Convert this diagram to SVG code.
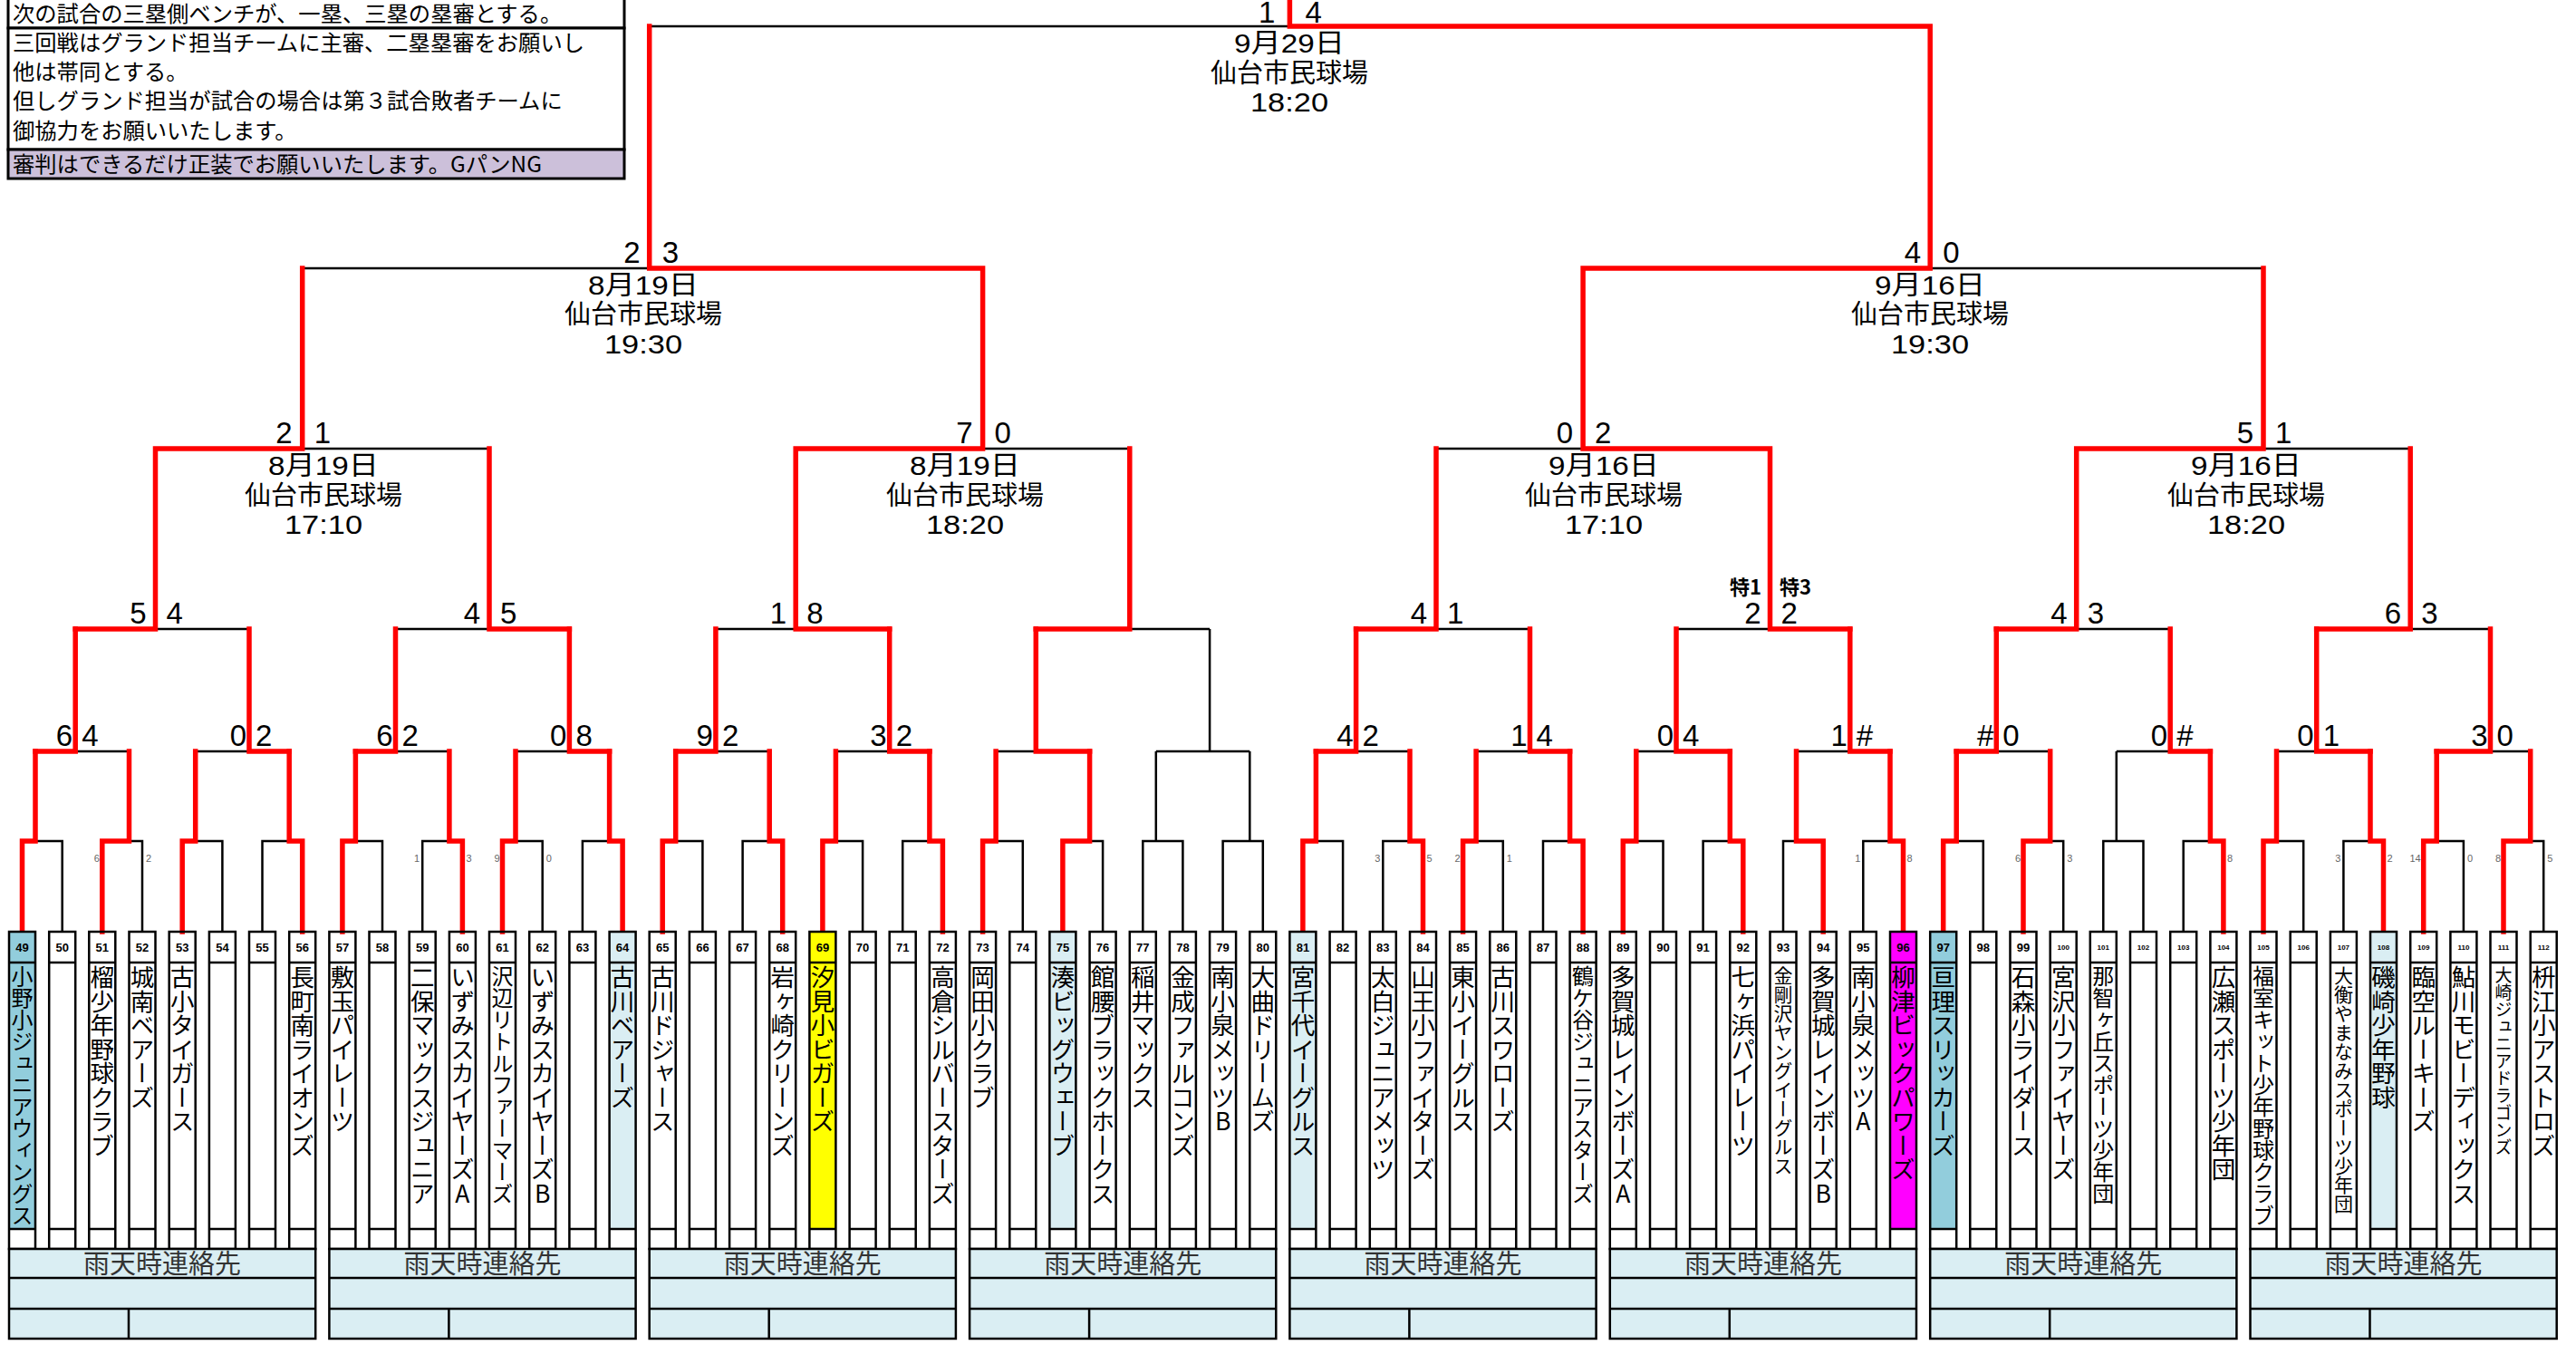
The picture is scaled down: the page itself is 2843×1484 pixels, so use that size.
<svg xmlns="http://www.w3.org/2000/svg" xmlns:xlink="http://www.w3.org/1999/xlink" width="2843" height="1484" viewBox="0 0 2843 1484">
<style>
.k{fill:none;stroke:#000;stroke-width:2.5}
.r{fill:none;stroke:#f00;stroke-width:5.5;stroke-linecap:square;stroke-linejoin:miter}
.cb{fill:none;stroke:#000;stroke-width:2.5}
.b1{fill:#92CDDC}.b2{fill:#DAEEF3}.yl{fill:#FFFF00}.mg{fill:#FF00FF}
.nt{font-family:"Noto Sans CJK JP",sans-serif;font-size:24.3px;fill:#000}
.s{font-family:"Liberation Sans",Arial,sans-serif;font-size:33px;fill:#000}
.e{text-anchor:end}
.tn{font-family:"Liberation Sans",Arial,sans-serif;font-size:11px;fill:#666}
.info{font-family:"Liberation Sans","Noto Sans CJK JP",sans-serif;font-size:29px;fill:#000;text-anchor:middle}
.no{font-family:"Liberation Sans",Arial,sans-serif;font-weight:bold;font-size:13px;text-anchor:middle}
.n3{font-size:8px}
.nm{font-family:"Noto Sans CJK JP",sans-serif;font-size:26.5px;writing-mode:vertical-rl;text-orientation:upright;fill:#000}
.f24{font-size:24px}.f21{font-size:21px}.f19{font-size:19px}
.rn{font-family:"Noto Sans CJK JP",sans-serif;font-size:29px;fill:#333;text-anchor:middle}
.rb{fill:#DAEEF3;stroke:#000;stroke-width:2.5}
.tk{font-family:"Noto Sans CJK JP",sans-serif;font-size:22px;font-weight:bold}
</style>
<defs>
<g id="col"><rect class="cb" x="0" y="1028" width="29" height="350"/><path class="k" d="M0 1062H29M0 1356H29"/></g>
</defs>
<rect width="2843" height="1484" fill="#fff"/>

<g id="notes">
<rect x="9" y="-5" width="680" height="36" fill="#fff" stroke="#000" stroke-width="3"/>
<rect x="9" y="31" width="680" height="134" fill="#fff" stroke="#000" stroke-width="3"/>
<rect x="9" y="165" width="680" height="32" fill="#CCC0DA" stroke="#000" stroke-width="3"/>
<text class="nt" x="14" y="24">次の試合の三塁側ベンチが、一塁、三塁の塁審とする。</text>
<text class="nt" x="14" y="56">三回戦はグランド担当チームに主審、二塁塁審をお願いし</text>
<text class="nt" x="14" y="88">他は帯同とする。</text>
<text class="nt" x="14" y="120">但しグランド担当が試合の場合は第３試合敗者チームに</text>
<text class="nt" x="14" y="153">御協力をお願いいたします。</text>
<text class="nt" x="14" y="190">審判はできるだけ正装でお願いいたします。GパンNG</text>
</g>

<g id="connectors">
<path class="k" d="M39 928H68.7V1028M142.5 928H157V1028M215.7 928H245.4V1028M319.2 928H289.5V1028M392.4 928H422V1028M495.9 928H466.2V1028M569 928H598.7V1028M672.6 928H642.9V1028M745.7 928H775.4V1028M849.2 928H819.6V1028M922.4 928H952.1V1028M1025.9 928H996.2V1028M1099.1 928H1128.8V1028M1202.6 928H1217.1V1028M1261.3 1028V928H1305.4V1028M1275.8 928V829M1349.6 1028V928H1393.8V1028M1379.3 928V829M1452.4 928H1482.1V1028M1556 928H1526.3V1028M1629.1 928H1658.8V1028M1732.6 928H1703V1028M1805.8 928H1835.5V1028M1909.3 928H1879.6V1028M1982.5 928H1968V1028M2086 928H2056.3V1028M2159.2 928H2188.8V1028M2262.7 928H2277.2V1028M2321.3 1028V928H2365.5V1028M2335.8 928V829M2439.4 928H2409.7V1028M2512.5 928H2542.2V1028M2616 928H2586.4V1028M2689.2 928H2718.9V1028M2792.7 928H2807.2V1028"/>
<path class="k" d="M83.2 829H142.5M275 829H215.7M436.5 829H495.9M628.4 829H569M789.9 829H849.2M981.7 829H922.4M1143.3 829H1099.1M1275.8 829H1379.3M1335.1 829V694M1496.6 829H1556M1688.5 829H1629.1M1850 829H1805.8M2041.8 829H1982.5M2203.3 829H2262.7M2395.2 829H2335.8M2556.7 829H2512.5M2748.5 829H2792.7"/>
<path class="k" d="M171.5 694H275M540 694H436.5M878.2 694H789.9M1246.8 694H1335.1M1585 694H1688.5M1953.5 694H1850M2291.7 694H2395.2M2660.2 694H2748.5M333.7 495H540M1084.6 495H1246.8M1747.1 495H1585M2498 495H2660.2M716.7 296H333.7M2130.2 296H2498M1423.4 29H716.7"/>
<path class="r" d="M24.5 1028V928H39V829M112.8 1028V928H142.5V829M201.2 1028V928H215.7V829M333.7 1028V928H319.2V829M377.9 1028V928H392.4V829M510.4 1028V928H495.9V829M554.5 1028V928H569V829M687.1 1028V928H672.6V829M731.2 1028V928H745.7V829M863.7 1028V928H849.2V829M907.9 1028V928H922.4V829M1040.4 1028V928H1025.9V829M1084.6 1028V928H1099.1V829M1172.9 1028V928H1202.6V829M1437.9 1028V928H1452.4V829M1570.5 1028V928H1556V829M1614.6 1028V928H1629.1V829M1747.1 1028V928H1732.6V829M1791.3 1028V928H1805.8V829M1923.8 1028V928H1909.3V829M2012.2 1028V928H1982.5V829M2100.5 1028V928H2086V829M2144.7 1028V928H2159.2V829M2233 1028V928H2262.7V829M2453.9 1028V928H2439.4V829M2498 1028V928H2512.5V829M2630.5 1028V928H2616V829M2674.7 1028V928H2689.2V829M2763 1028V928H2792.7V829"/>
<path class="r" d="M39 829H83.2V694M319.2 829H275V694M392.4 829H436.5V694M672.6 829H628.4V694M745.7 829H789.9V694M1025.9 829H981.7V694M1202.6 829H1143.3V694M1452.4 829H1496.6V694M1732.6 829H1688.5V694M1909.3 829H1850V694M2086 829H2041.8V694M2159.2 829H2203.3V694M2439.4 829H2395.2V694M2616 829H2556.7V694M2689.2 829H2748.5V694"/>
<path class="r" d="M83.2 694H171.5V495M628.4 694H540V495M981.7 694H878.2V495M1143.3 694H1246.8V495M1496.6 694H1585V495M2041.8 694H1953.5V495M2203.3 694H2291.7V495M2556.7 694H2660.2V495M171.5 495H333.7V296M878.2 495H1084.6V296M1953.5 495H1747.1V296M2291.7 495H2498V296M1084.6 296H716.7V29M1747.1 296H2130.2V29M2130.2 29H1423.4V0"/>
</g>

<g id="scores">
<text class="s e" x="80.2" y="823">6</text><text class="s" x="90.2" y="823">4</text>
<text class="s e" x="272" y="823">0</text><text class="s" x="282" y="823">2</text>
<text class="s e" x="433.5" y="823">6</text><text class="s" x="443.5" y="823">2</text>
<text class="s e" x="625.4" y="823">0</text><text class="s" x="635.4" y="823">8</text>
<text class="s e" x="786.9" y="823">9</text><text class="s" x="796.9" y="823">2</text>
<text class="s e" x="978.7" y="823">3</text><text class="s" x="988.7" y="823">2</text>
<text class="s e" x="1493.6" y="823">4</text><text class="s" x="1503.6" y="823">2</text>
<text class="s e" x="1685.5" y="823">1</text><text class="s" x="1695.5" y="823">4</text>
<text class="s e" x="1847" y="823">0</text><text class="s" x="1857" y="823">4</text>
<text class="s e" x="2038.8" y="823">1</text><text class="s" x="2048.8" y="823">#</text>
<text class="s e" x="2200.3" y="823">#</text><text class="s" x="2210.3" y="823">0</text>
<text class="s e" x="2392.2" y="823">0</text><text class="s" x="2402.2" y="823">#</text>
<text class="s e" x="2553.7" y="823">0</text><text class="s" x="2563.7" y="823">1</text>
<text class="s e" x="2745.5" y="823">3</text><text class="s" x="2755.5" y="823">0</text>
<text class="s e" x="161.5" y="688">5</text><text class="s" x="183.5" y="688">4</text>
<text class="s e" x="530" y="688">4</text><text class="s" x="552" y="688">5</text>
<text class="s e" x="868.2" y="688">1</text><text class="s" x="890.2" y="688">8</text>
<text class="s e" x="1575" y="688">4</text><text class="s" x="1597" y="688">1</text>
<text class="s e" x="1943.5" y="688">2</text><text class="s" x="1965.5" y="688">2</text>
<text class="s e" x="2281.7" y="688">4</text><text class="s" x="2303.7" y="688">3</text>
<text class="s e" x="2650.2" y="688">6</text><text class="s" x="2672.2" y="688">3</text>
<text class="tk e" x="1944" y="656">特1</text><text class="tk" x="1964" y="656">特3</text>
<text class="s e" x="322.7" y="489">2</text><text class="s" x="346.7" y="489">1</text>
<text class="s e" x="1073.6" y="489">7</text><text class="s" x="1097.6" y="489">0</text>
<text class="s e" x="1736.1" y="489">0</text><text class="s" x="1760.1" y="489">2</text>
<text class="s e" x="2487" y="489">5</text><text class="s" x="2511" y="489">1</text>
<text class="s e" x="706.7" y="290">2</text><text class="s" x="730.7" y="290">3</text>
<text class="s e" x="2120.2" y="290">4</text><text class="s" x="2144.2" y="290">0</text>
<text class="s e" x="1407.4" y="25">1</text><text class="s" x="1440.4" y="25">4</text>
<text class="tn e" x="109.8" y="951">6</text><text class="tn" x="161" y="951">2</text>
<text class="tn e" x="463.2" y="951">1</text><text class="tn" x="514.4" y="951">3</text>
<text class="tn e" x="551.5" y="951">9</text><text class="tn" x="602.7" y="951">0</text>
<text class="tn e" x="1523.3" y="951">3</text><text class="tn" x="1574.5" y="951">5</text>
<text class="tn e" x="1611.6" y="951">2</text><text class="tn" x="1662.8" y="951">1</text>
<text class="tn e" x="2053.3" y="951">1</text><text class="tn" x="2104.5" y="951">8</text>
<text class="tn e" x="2230" y="951">6</text><text class="tn" x="2281.2" y="951">3</text>
<text class="tn" x="2457.9" y="951">8</text>
<text class="tn e" x="2583.4" y="951">3</text><text class="tn" x="2634.5" y="951">2</text>
<text class="tn e" x="2671.7" y="951">14</text><text class="tn" x="2722.9" y="951">0</text>
<text class="tn e" x="2760" y="951">8</text><text class="tn" x="2811.2" y="951">5</text>
</g>

<g id="match-info">
<text class="info" x="1423" y="58" textLength="122" lengthAdjust="spacingAndGlyphs">9月29日</text><text class="info" x="1423" y="91">仙台市民球場</text><text class="info" x="1423" y="123" textLength="86" lengthAdjust="spacingAndGlyphs">18:20</text>
<text class="info" x="710" y="325" textLength="122" lengthAdjust="spacingAndGlyphs">8月19日</text><text class="info" x="710" y="357">仙台市民球場</text><text class="info" x="710" y="390" textLength="86" lengthAdjust="spacingAndGlyphs">19:30</text>
<text class="info" x="2130" y="325" textLength="122" lengthAdjust="spacingAndGlyphs">9月16日</text><text class="info" x="2130" y="357">仙台市民球場</text><text class="info" x="2130" y="390" textLength="86" lengthAdjust="spacingAndGlyphs">19:30</text>
<text class="info" x="357" y="524" textLength="122" lengthAdjust="spacingAndGlyphs">8月19日</text><text class="info" x="357" y="557">仙台市民球場</text><text class="info" x="357" y="589" textLength="86" lengthAdjust="spacingAndGlyphs">17:10</text>
<text class="info" x="1065" y="524" textLength="122" lengthAdjust="spacingAndGlyphs">8月19日</text><text class="info" x="1065" y="557">仙台市民球場</text><text class="info" x="1065" y="589" textLength="86" lengthAdjust="spacingAndGlyphs">18:20</text>
<text class="info" x="1770" y="524" textLength="122" lengthAdjust="spacingAndGlyphs">9月16日</text><text class="info" x="1770" y="557">仙台市民球場</text><text class="info" x="1770" y="589" textLength="86" lengthAdjust="spacingAndGlyphs">17:10</text>
<text class="info" x="2479" y="524" textLength="122" lengthAdjust="spacingAndGlyphs">9月16日</text><text class="info" x="2479" y="557">仙台市民球場</text><text class="info" x="2479" y="589" textLength="86" lengthAdjust="spacingAndGlyphs">18:20</text>
</g>

<g id="teams">
<g id="team49"><rect class="b1" x="10" y="1028" width="29" height="328"/><use xlink:href="#col" x="10"/><text class="no" x="24.5" y="1050">49</text><text class="nm f24" x="24.5" y="1065">小野小ジュニアウィングス</text></g>
<g id="team50"><use xlink:href="#col" x="54.2"/><text class="no" x="68.7" y="1050">50</text></g>
<g id="team51"><use xlink:href="#col" x="98.3"/><text class="no" x="112.8" y="1050">51</text><text class="nm" x="112.8" y="1065">榴少年野球クラブ</text></g>
<g id="team52"><use xlink:href="#col" x="142.5"/><text class="no" x="157" y="1050">52</text><text class="nm" x="157" y="1065">城南ベアーズ</text></g>
<g id="team53"><use xlink:href="#col" x="186.7"/><text class="no" x="201.2" y="1050">53</text><text class="nm" x="201.2" y="1065">古小タイガース</text></g>
<g id="team54"><use xlink:href="#col" x="230.9"/><text class="no" x="245.4" y="1050">54</text></g>
<g id="team55"><use xlink:href="#col" x="275"/><text class="no" x="289.5" y="1050">55</text></g>
<g id="team56"><use xlink:href="#col" x="319.2"/><text class="no" x="333.7" y="1050">56</text><text class="nm" x="333.7" y="1065">長町南ライオンズ</text></g>
<g id="team57"><use xlink:href="#col" x="363.4"/><text class="no" x="377.9" y="1050">57</text><text class="nm" x="377.9" y="1065">敷玉パイレーツ</text></g>
<g id="team58"><use xlink:href="#col" x="407.5"/><text class="no" x="422" y="1050">58</text></g>
<g id="team59"><use xlink:href="#col" x="451.7"/><text class="no" x="466.2" y="1050">59</text><text class="nm" x="466.2" y="1065">二保マックスジュニア</text></g>
<g id="team60"><use xlink:href="#col" x="495.9"/><text class="no" x="510.4" y="1050">60</text><text class="nm" x="510.4" y="1065">いずみスカイヤーズA</text></g>
<g id="team61"><use xlink:href="#col" x="540"/><text class="no" x="554.5" y="1050">61</text><text class="nm f24" x="554.5" y="1065">沢辺リトルファーマーズ</text></g>
<g id="team62"><use xlink:href="#col" x="584.2"/><text class="no" x="598.7" y="1050">62</text><text class="nm" x="598.7" y="1065">いずみスカイヤーズB</text></g>
<g id="team63"><use xlink:href="#col" x="628.4"/><text class="no" x="642.9" y="1050">63</text></g>
<g id="team64"><rect class="b2" x="672.6" y="1028" width="29" height="328"/><use xlink:href="#col" x="672.6"/><text class="no" x="687.1" y="1050">64</text><text class="nm" x="687.1" y="1065">古川ベアーズ</text></g>
<g id="team65"><use xlink:href="#col" x="716.7"/><text class="no" x="731.2" y="1050">65</text><text class="nm" x="731.2" y="1065">古川ドジャース</text></g>
<g id="team66"><use xlink:href="#col" x="760.9"/><text class="no" x="775.4" y="1050">66</text></g>
<g id="team67"><use xlink:href="#col" x="805.1"/><text class="no" x="819.6" y="1050">67</text></g>
<g id="team68"><use xlink:href="#col" x="849.2"/><text class="no" x="863.7" y="1050">68</text><text class="nm" x="863.7" y="1065">岩ヶ崎クリーンズ</text></g>
<g id="team69"><rect class="yl" x="893.4" y="1028" width="29" height="328"/><use xlink:href="#col" x="893.4"/><text class="no" x="907.9" y="1050">69</text><text class="nm" x="907.9" y="1065">汐見小ビガーズ</text></g>
<g id="team70"><use xlink:href="#col" x="937.6"/><text class="no" x="952.1" y="1050">70</text></g>
<g id="team71"><use xlink:href="#col" x="981.7"/><text class="no" x="996.2" y="1050">71</text></g>
<g id="team72"><use xlink:href="#col" x="1025.9"/><text class="no" x="1040.4" y="1050">72</text><text class="nm" x="1040.4" y="1065">高倉シルバースターズ</text></g>
<g id="team73"><use xlink:href="#col" x="1070.1"/><text class="no" x="1084.6" y="1050">73</text><text class="nm" x="1084.6" y="1065">岡田小クラブ</text></g>
<g id="team74"><use xlink:href="#col" x="1114.3"/><text class="no" x="1128.8" y="1050">74</text></g>
<g id="team75"><rect class="b2" x="1158.4" y="1028" width="29" height="328"/><use xlink:href="#col" x="1158.4"/><text class="no" x="1172.9" y="1050">75</text><text class="nm" x="1172.9" y="1065">湊ビッグウェーブ</text></g>
<g id="team76"><use xlink:href="#col" x="1202.6"/><text class="no" x="1217.1" y="1050">76</text><text class="nm" x="1217.1" y="1065">館腰ブラックホークス</text></g>
<g id="team77"><use xlink:href="#col" x="1246.8"/><text class="no" x="1261.3" y="1050">77</text><text class="nm" x="1261.3" y="1065">稲井マックス</text></g>
<g id="team78"><use xlink:href="#col" x="1290.9"/><text class="no" x="1305.4" y="1050">78</text><text class="nm" x="1305.4" y="1065">金成ファルコンズ</text></g>
<g id="team79"><use xlink:href="#col" x="1335.1"/><text class="no" x="1349.6" y="1050">79</text><text class="nm" x="1349.6" y="1065">南小泉メッツB</text></g>
<g id="team80"><use xlink:href="#col" x="1379.3"/><text class="no" x="1393.8" y="1050">80</text><text class="nm" x="1393.8" y="1065">大曲ドリームズ</text></g>
<g id="team81"><rect class="b2" x="1423.4" y="1028" width="29" height="328"/><use xlink:href="#col" x="1423.4"/><text class="no" x="1437.9" y="1050">81</text><text class="nm" x="1437.9" y="1065">宮千代イーグルス</text></g>
<g id="team82"><use xlink:href="#col" x="1467.6"/><text class="no" x="1482.1" y="1050">82</text></g>
<g id="team83"><use xlink:href="#col" x="1511.8"/><text class="no" x="1526.3" y="1050">83</text><text class="nm" x="1526.3" y="1065">太白ジュニアメッツ</text></g>
<g id="team84"><use xlink:href="#col" x="1556"/><text class="no" x="1570.5" y="1050">84</text><text class="nm" x="1570.5" y="1065">山王小ファイターズ</text></g>
<g id="team85"><use xlink:href="#col" x="1600.1"/><text class="no" x="1614.6" y="1050">85</text><text class="nm" x="1614.6" y="1065">東小イーグルス</text></g>
<g id="team86"><use xlink:href="#col" x="1644.3"/><text class="no" x="1658.8" y="1050">86</text><text class="nm" x="1658.8" y="1065">古川スワローズ</text></g>
<g id="team87"><use xlink:href="#col" x="1688.5"/><text class="no" x="1703" y="1050">87</text></g>
<g id="team88"><use xlink:href="#col" x="1732.6"/><text class="no" x="1747.1" y="1050">88</text><text class="nm f24" x="1747.1" y="1065">鶴ケ谷ジュニアスターズ</text></g>
<g id="team89"><use xlink:href="#col" x="1776.8"/><text class="no" x="1791.3" y="1050">89</text><text class="nm" x="1791.3" y="1065">多賀城レインボーズA</text></g>
<g id="team90"><use xlink:href="#col" x="1821"/><text class="no" x="1835.5" y="1050">90</text></g>
<g id="team91"><use xlink:href="#col" x="1865.1"/><text class="no" x="1879.6" y="1050">91</text></g>
<g id="team92"><use xlink:href="#col" x="1909.3"/><text class="no" x="1923.8" y="1050">92</text><text class="nm" x="1923.8" y="1065">七ヶ浜パイレーツ</text></g>
<g id="team93"><use xlink:href="#col" x="1953.5"/><text class="no" x="1968" y="1050">93</text><text class="nm f21" x="1968" y="1066">金剛沢ヤングイーグルス</text></g>
<g id="team94"><use xlink:href="#col" x="1997.7"/><text class="no" x="2012.2" y="1050">94</text><text class="nm" x="2012.2" y="1065">多賀城レインボーズB</text></g>
<g id="team95"><use xlink:href="#col" x="2041.8"/><text class="no" x="2056.3" y="1050">95</text><text class="nm" x="2056.3" y="1065">南小泉メッツA</text></g>
<g id="team96"><rect class="mg" x="2086" y="1028" width="29" height="328"/><use xlink:href="#col" x="2086"/><text class="no" x="2100.5" y="1050">96</text><text class="nm" x="2100.5" y="1065">柳津ビックパワーズ</text></g>
<g id="team97"><rect class="b1" x="2130.2" y="1028" width="29" height="328"/><use xlink:href="#col" x="2130.2"/><text class="no" x="2144.7" y="1050">97</text><text class="nm" x="2144.7" y="1065">亘理スリッカーズ</text></g>
<g id="team98"><use xlink:href="#col" x="2174.3"/><text class="no" x="2188.8" y="1050">98</text></g>
<g id="team99"><use xlink:href="#col" x="2218.5"/><text class="no" x="2233" y="1050">99</text><text class="nm" x="2233" y="1065">石森小ライダース</text></g>
<g id="team100"><use xlink:href="#col" x="2262.7"/><text class="no n3" x="2277.2" y="1048">100</text><text class="nm" x="2277.2" y="1065">宮沢小ファイヤーズ</text></g>
<g id="team101"><use xlink:href="#col" x="2306.8"/><text class="no n3" x="2321.3" y="1048">101</text><text class="nm f24" x="2321.3" y="1065">那智ヶ丘スポーツ少年団</text></g>
<g id="team102"><use xlink:href="#col" x="2351"/><text class="no n3" x="2365.5" y="1048">102</text></g>
<g id="team103"><use xlink:href="#col" x="2395.2"/><text class="no n3" x="2409.7" y="1048">103</text></g>
<g id="team104"><use xlink:href="#col" x="2439.4"/><text class="no n3" x="2453.9" y="1048">104</text><text class="nm" x="2453.9" y="1065">広瀬スポーツ少年団</text></g>
<g id="team105"><use xlink:href="#col" x="2483.5"/><text class="no n3" x="2498" y="1048">105</text><text class="nm f24" x="2498" y="1065">福室キット少年野球クラブ</text></g>
<g id="team106"><use xlink:href="#col" x="2527.7"/><text class="no n3" x="2542.2" y="1048">106</text></g>
<g id="team107"><use xlink:href="#col" x="2571.9"/><text class="no n3" x="2586.4" y="1048">107</text><text class="nm f21" x="2586.4" y="1066">大衡やまなみスポーツ少年団</text></g>
<g id="team108"><rect class="b2" x="2616" y="1028" width="29" height="328"/><use xlink:href="#col" x="2616"/><text class="no n3" x="2630.5" y="1048">108</text><text class="nm" x="2630.5" y="1065">磯崎少年野球</text></g>
<g id="team109"><use xlink:href="#col" x="2660.2"/><text class="no n3" x="2674.7" y="1048">109</text><text class="nm" x="2674.7" y="1065">臨空ルーキーズ</text></g>
<g id="team110"><use xlink:href="#col" x="2704.4"/><text class="no n3" x="2718.9" y="1048">110</text><text class="nm" x="2718.9" y="1065">鮎川モビーディックス</text></g>
<g id="team111"><use xlink:href="#col" x="2748.5"/><text class="no n3" x="2763" y="1048">111</text><text class="nm f19" x="2763" y="1066">大崎ジュニアドラゴンズ</text></g>
<g id="team112"><use xlink:href="#col" x="2792.7"/><text class="no n3" x="2807.2" y="1048">112</text><text class="nm" x="2807.2" y="1065">枡江小アストロズ</text></g>
</g>

<g id="rain-contacts">
<g id="rain1"><rect class="rb" x="10" y="1378" width="338.2" height="99"/><path class="k" d="M10 1410H348.2M10 1444H348.2M142 1444V1477"/><text class="rn" x="179.1" y="1405">雨天時連絡先</text></g>
<g id="rain2"><rect class="rb" x="363.4" y="1378" width="338.2" height="99"/><path class="k" d="M363.4 1410H701.6M363.4 1444H701.6M495.4 1444V1477"/><text class="rn" x="532.5" y="1405">雨天時連絡先</text></g>
<g id="rain3"><rect class="rb" x="716.7" y="1378" width="338.2" height="99"/><path class="k" d="M716.7 1410H1054.9M716.7 1444H1054.9M848.7 1444V1477"/><text class="rn" x="885.8" y="1405">雨天時連絡先</text></g>
<g id="rain4"><rect class="rb" x="1070.1" y="1378" width="338.2" height="99"/><path class="k" d="M1070.1 1410H1408.3M1070.1 1444H1408.3M1202.1 1444V1477"/><text class="rn" x="1239.2" y="1405">雨天時連絡先</text></g>
<g id="rain5"><rect class="rb" x="1423.4" y="1378" width="338.2" height="99"/><path class="k" d="M1423.4 1410H1761.6M1423.4 1444H1761.6M1555.4 1444V1477"/><text class="rn" x="1592.5" y="1405">雨天時連絡先</text></g>
<g id="rain6"><rect class="rb" x="1776.8" y="1378" width="338.2" height="99"/><path class="k" d="M1776.8 1410H2115M1776.8 1444H2115M1908.8 1444V1477"/><text class="rn" x="1945.9" y="1405">雨天時連絡先</text></g>
<g id="rain7"><rect class="rb" x="2130.2" y="1378" width="338.2" height="99"/><path class="k" d="M2130.2 1410H2468.4M2130.2 1444H2468.4M2262.2 1444V1477"/><text class="rn" x="2299.3" y="1405">雨天時連絡先</text></g>
<g id="rain8"><rect class="rb" x="2483.5" y="1378" width="338.2" height="99"/><path class="k" d="M2483.5 1410H2821.7M2483.5 1444H2821.7M2615.5 1444V1477"/><text class="rn" x="2652.6" y="1405">雨天時連絡先</text></g>
</g>
</svg>
